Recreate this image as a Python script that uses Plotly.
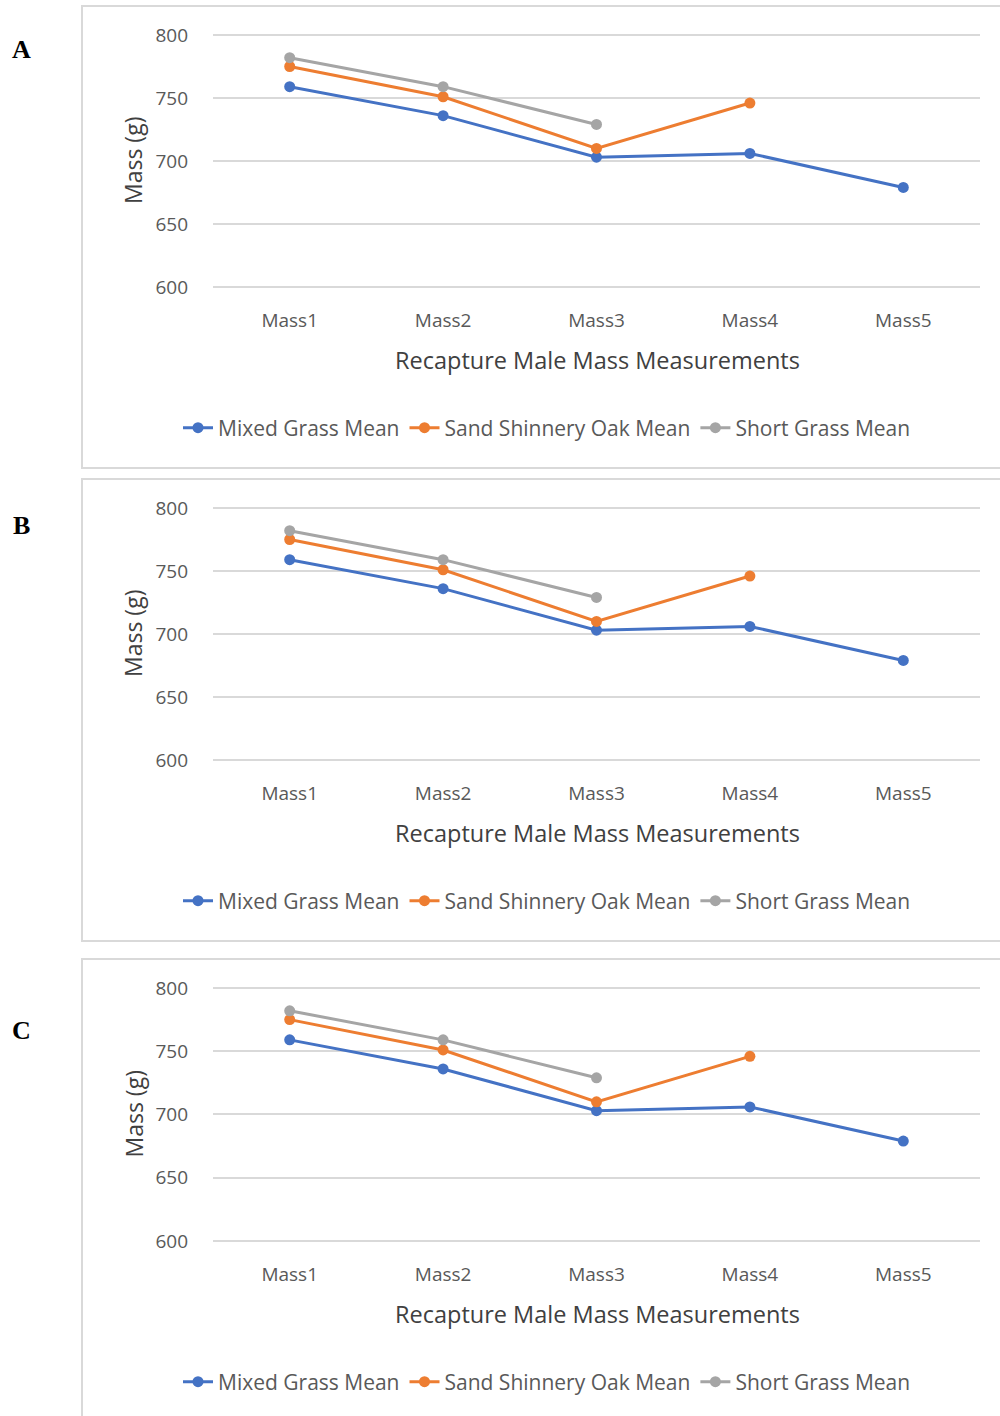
import plotly.graph_objects as go

# Measurement occasions on the x axis
categories = ["Mass1", "Mass2", "Mass3", "Mass4", "Mass5"]

# Mean recapture mass (g) for each habitat
mixed_grass = [759, 736, 703, 706, 679]
sand_shinnery_oak = [775, 751, 710, 746, None]
short_grass = [782, 759, 729, None, None]

series_names = ["Mixed Grass Mean", "Sand Shinnery Oak Mean", "Short Grass Mean"]
series_values = [mixed_grass, sand_shinnery_oak, short_grass]
series_colors = ["#4472C4", "#ED7D31", "#A5A5A5"]

panel_labels = ["A", "B", "C"]
y_ticks = [600, 650, 700, 750, 800]

W, H = 1000, 1416
FONT = "Open Sans, Lato, sans-serif"


def py(p):
    """Convert a pixel row (from top) to paper y."""
    return 1 - p / H


# pixel geometry of each panel: (800 line, 600 line, frame top, frame bottom, label y)
panels = [
    (35, 287, 6, 468, 50),
    (508, 760, 479, 941, 525),
    (988, 1241, 959, 1430, 1030),
]

fig = go.Figure()
shapes = []
annotations = []
tick_font = dict(family=FONT, size=19, color="#595959")

for i, (top, bot, ftop, fbot, ly) in enumerate(panels):
    n = "" if i == 0 else str(i + 1)
    xa = "x" + n
    ya = "y" + n
    lg = "legend" + n
    for name, vals, col in zip(series_names, series_values, series_colors):
        fig.add_trace(go.Scatter(
            x=categories, y=vals, name=name, mode="lines+markers",
            line=dict(color=col, width=3),
            marker=dict(color=col, size=11),
            xaxis=xa, yaxis=ya, legend=lg,
        ))
    pad = (bot - top) / 200.0  # one data unit in pixels
    fig.layout["xaxis" + n] = dict(
        domain=[0.213, 0.98], anchor=ya, type="category",
        showgrid=False, showline=False, zeroline=False, automargin=False,
        tickfont=tick_font, ticklabelstandoff=19, fixedrange=True,
        range=[-0.5, 4.5],
    )
    fig.layout["yaxis" + n] = dict(
        domain=[py(bot + pad), py(top - pad)], anchor=xa, range=[599, 801],
        tickvals=y_ticks, showgrid=True, gridcolor="#D9D9D9", gridwidth=1.5,
        showline=False, zeroline=False, automargin=False, tickfont=tick_font,
        ticklabelstandoff=24, fixedrange=True,
    )
    fig.layout[lg] = dict(
        orientation="h", x=0.547, xanchor="center",
        y=py(bot + 141), yanchor="middle",
        font=dict(family=FONT, size=21, color="#595959"),
        bgcolor="rgba(0,0,0,0)", itemwidth=30, tracegroupgap=0,
    )
    # panel frame
    shapes.append(dict(
        type="rect", xref="paper", yref="paper",
        x0=0.082, x1=1.01, y0=py(fbot), y1=py(ftop),
        line=dict(color="#D9D9D9", width=2), fillcolor="rgba(0,0,0,0)",
        layer="below",
    ))
    # axis titles
    annotations.append(dict(
        text="Recapture Male Mass Measurements", xref="paper", yref="paper",
        x=0.597, y=py(bot + 73), xanchor="center", yanchor="middle",
        showarrow=False,
        font=dict(family=FONT, size=23.5, color="#404040"),
    ))
    annotations.append(dict(
        text="Mass (g)", xref="paper", yref="paper",
        x=0.133, y=py((top + bot) / 2), xanchor="center", yanchor="middle",
        textangle=-90, showarrow=False,
        font=dict(family=FONT, size=23, color="#404040"),
    ))
    # panel letter
    annotations.append(dict(
        text="<b>%s</b>" % panel_labels[i], xref="paper", yref="paper",
        x=0.021, y=py(ly), xanchor="center", yanchor="middle",
        showarrow=False,
        font=dict(family="Liberation Serif, Times New Roman, serif", size=26,
                  color="#000000"),
    ))

fig.update_layout(
    width=W, height=H, margin=dict(l=0, r=0, t=0, b=0, autoexpand=False),
    paper_bgcolor="white", plot_bgcolor="white",
    shapes=shapes, annotations=annotations, showlegend=True,
)

fig.write_html("out.html")
